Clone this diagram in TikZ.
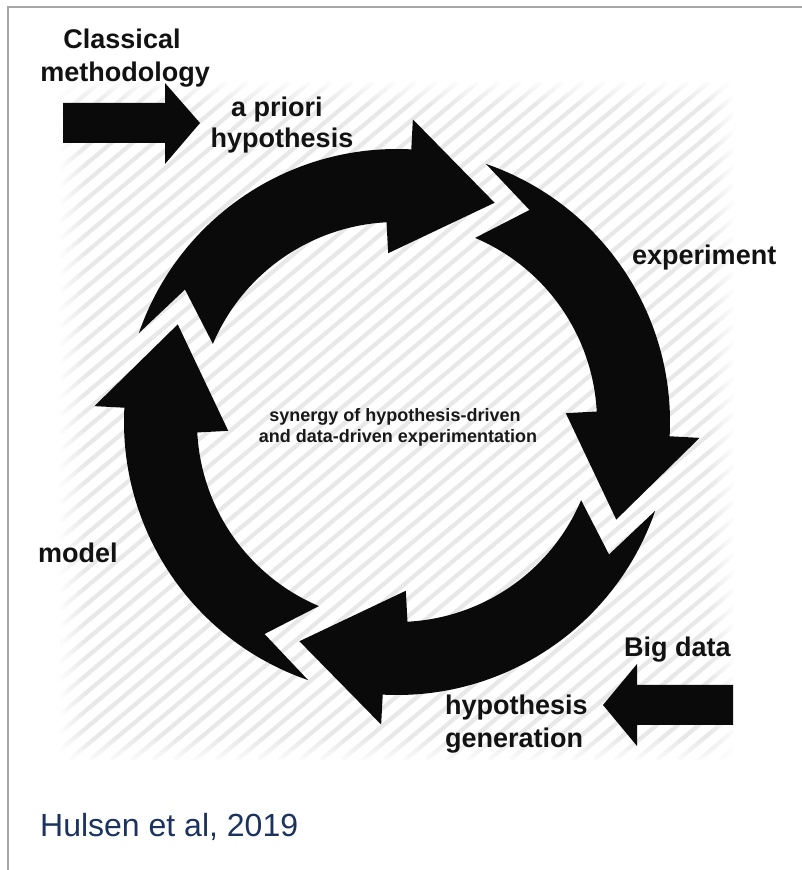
\documentclass[tikz,border=0pt]{standalone}
\usepackage{fontspec}
\setmainfont{Liberation Sans}
\usetikzlibrary{fadings}
\tikzfading[name=fadeR, left color=transparent!100, right color=transparent!0]
\tikzfading[name=fadeL, left color=transparent!0, right color=transparent!100]
\tikzfading[name=fadeT, top color=transparent!0, bottom color=transparent!100]
\tikzfading[name=fadeB, top color=transparent!100, bottom color=transparent!0]
\begin{document}
\begin{tikzpicture}[x=1pt,y=1pt,
  lbl/.style={font=\bfseries\fontsize{27}{32}\selectfont, text=black!93, inner sep=0pt},
  small/.style={font=\bfseries\fontsize{18}{21}\selectfont, text=black!90, inner sep=0pt, anchor=base},
  blk/.style={fill=black!96},
  stripe/.style={draw=black!9, line width=4.2pt},
]
\useasboundingbox (0,0) rectangle (802,870);
\fill[white] (0,0) rectangle (802,870);
% frame
\draw[black!35, line width=2pt] (8,0) -- (8,863) -- (802,863);
% hatched background
\begin{scope}
  \clip (60,110) rectangle (733,788);
  \foreach \k in {0,...,72} \draw[stripe] ({-750+21*\k},110) -- ++(808,678);
\end{scope}
% soft edges of the hatching
\fill[white, path fading=fadeR] (708,105) rectangle (736,792);
\fill[white, path fading=fadeL] (57,105) rectangle (85,792);
\fill[white, path fading=fadeT] (57,765) rectangle (736,792);
\fill[white, path fading=fadeB] (57,105) rectangle (736,133);
% cycle of four curved arrows
\begin{scope}[shift={(397,448)}]
  \foreach \r in {0,-90,-180,-270} {
    \begin{scope}[rotate=\r]
      \fill[blk] (161:273) arc[start angle=161, end angle=87, radius=273]
        -- (87:303) -- (66:240) -- (93:169) -- (93:200)
        arc[start angle=93, end angle=157, radius=200]
        -- (148:250) -- cycle;
    \end{scope}
  }
\end{scope}
% input arrows
\fill[blk] (63,727) -- (165,727) -- (165,706) -- (200,747) -- (165,787) -- (165,767) -- (63,767) -- cycle;
\fill[blk] (733,145) -- (637,145) -- (637,124) -- (603,165) -- (637,206) -- (637,185) -- (733,185) -- cycle;
% labels
\node[lbl, anchor=base] (cl1) at (122,821) {Classical};
\node[lbl, anchor=base] (cl2) at (125,788) {methodology};
\node[lbl, anchor=base] (ap1) at (277,753) {a priori};
\node[lbl, anchor=base] (ap2) at (282,722) {hypothesis};
\node[lbl, anchor=base west] (exp) at (632,605) {experiment};
\node[lbl, anchor=base west] (mod) at (38,307) {model};
\node[lbl, anchor=base west] (big) at (624,213) {Big data};
\node[lbl, anchor=base west] (hg1) at (445,155) {hypothesis};
\node[lbl, anchor=base west] (hg2) at (445,122) {generation};
\node[small] (syn1) at (395,448) {synergy of hypothesis-driven};
\node[small] (syn2) at (398,427) {and data-driven experimentation};
\node[font=\fontsize{32}{38}\selectfont, text={rgb,255:red,28;green,50;blue,95}, inner sep=0pt, anchor=base west] (ref) at (40,33) {Hulsen et al, 2019};
\end{tikzpicture}
\end{document}
